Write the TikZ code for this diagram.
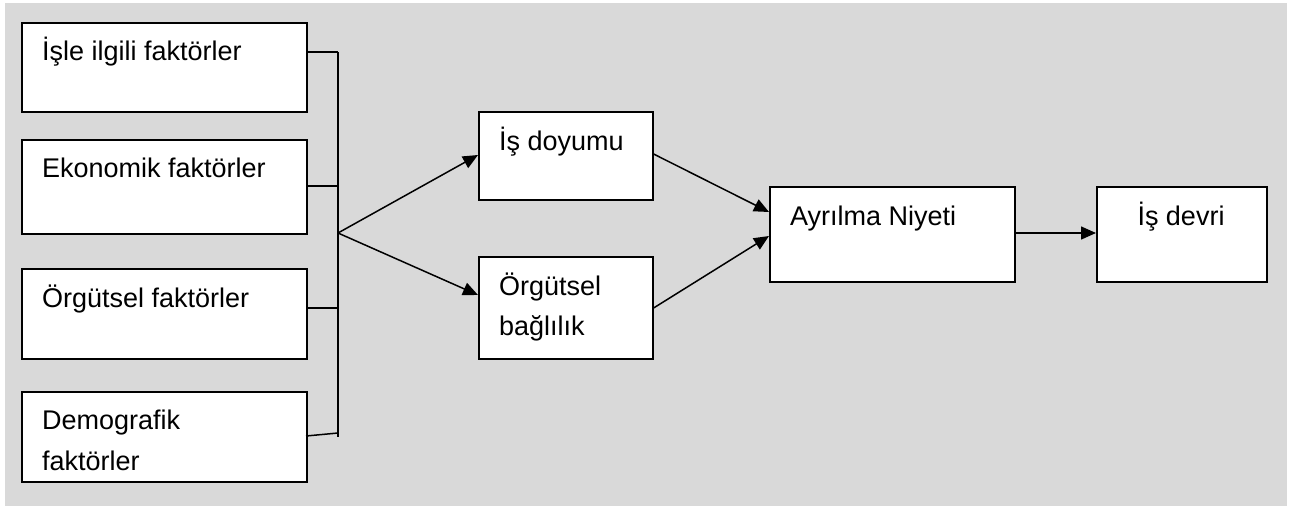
\documentclass[tikz,border=0pt]{standalone}
\usepackage{fontspec}
\setmainfont{Liberation Sans}
\usetikzlibrary{arrows.meta}
\definecolor{bggrey}{HTML}{D9D9D9}
\begin{document}
\begin{tikzpicture}[x=1pt,y=-1pt,
  boxnode/.style={draw=black, line width=1.6pt, fill=white, rectangle, inner sep=0pt, anchor=north west},
  txt/.style={font=\fontsize{27}{41}\selectfont, inner sep=0pt, anchor=base west, align=left},
  conn/.style={draw=black, line width=1.5pt},
  arr/.style={conn, -{Triangle[length=15pt,width=13pt]}},
]
\useasboundingbox (0,0) rectangle (1293,506);
\fill[bggrey] (5,3) rectangle (1287,506);

% boxes
\node[boxnode, minimum width=285pt, minimum height=89pt] (b1) at (21,22) {};
\node[boxnode, minimum width=285pt, minimum height=94pt] (b2) at (21,139) {};
\node[boxnode, minimum width=285pt, minimum height=90pt] (b3) at (21,268) {};
\node[boxnode, minimum width=285pt, minimum height=90pt] (b4) at (21,391) {};
\node[boxnode, minimum width=174pt, minimum height=88pt] (jd) at (478,111) {};
\node[boxnode, minimum width=174pt, minimum height=102pt] (ob) at (478,256) {};
\node[boxnode, minimum width=245pt, minimum height=95pt] (an) at (769,186) {};
\node[boxnode, minimum width=170pt, minimum height=95pt] (id) at (1096,186) {};

% texts (multi-line nodes: base is the last line)
\node[txt] (t1) at (42,60) {İşle ilgili faktörler};
\node[txt] (t2) at (42,177) {Ekonomik faktörler};
\node[txt] (t3) at (42,307) {Örgütsel faktörler};
\node[txt] (t4) at (42,470) {Demografik\\faktörler};
\node[txt] (t5) at (499,150) {İş doyumu};
\node[txt, font=\fontsize{27}{40}\selectfont] (t6) at (499,335) {Örgütsel\\bağlılık};
\node[txt] (t7) at (790,225) {Ayrılma Niyeti};
\node[txt, anchor=base] (t8) at (1181,225) {İş devri};

% collector
\coordinate (c1) at (338,52);
\coordinate (c2) at (338,186);
\coordinate (c3) at (338,308);
\coordinate (c4) at (338,433);
\coordinate (ctop) at (338,52);
\coordinate (cbot) at (338,437);
\coordinate (fan) at (338,233);
\draw[conn] (b1.east |- c1) -- (c1);
\draw[conn] (b2.east |- c2) -- (c2);
\draw[conn] (b3.east |- c3) -- (c3);
\draw[conn] (306,436) -- (c4);
\draw[conn] (ctop) -- (cbot);

\draw[arr] (fan) -- (jd.west |- 0,155);
\draw[arr] (fan) -- (ob.west |- 0,295);
\draw[arr] (jd.east |- 0,154) -- (an.west |- 0,212);
\draw[arr] (ob.east |- 0,308) -- (an.west |- 0,236);
\draw[arr] (an.east |- 0,233) -- (id.west |- 0,233);
\end{tikzpicture}
\end{document}
